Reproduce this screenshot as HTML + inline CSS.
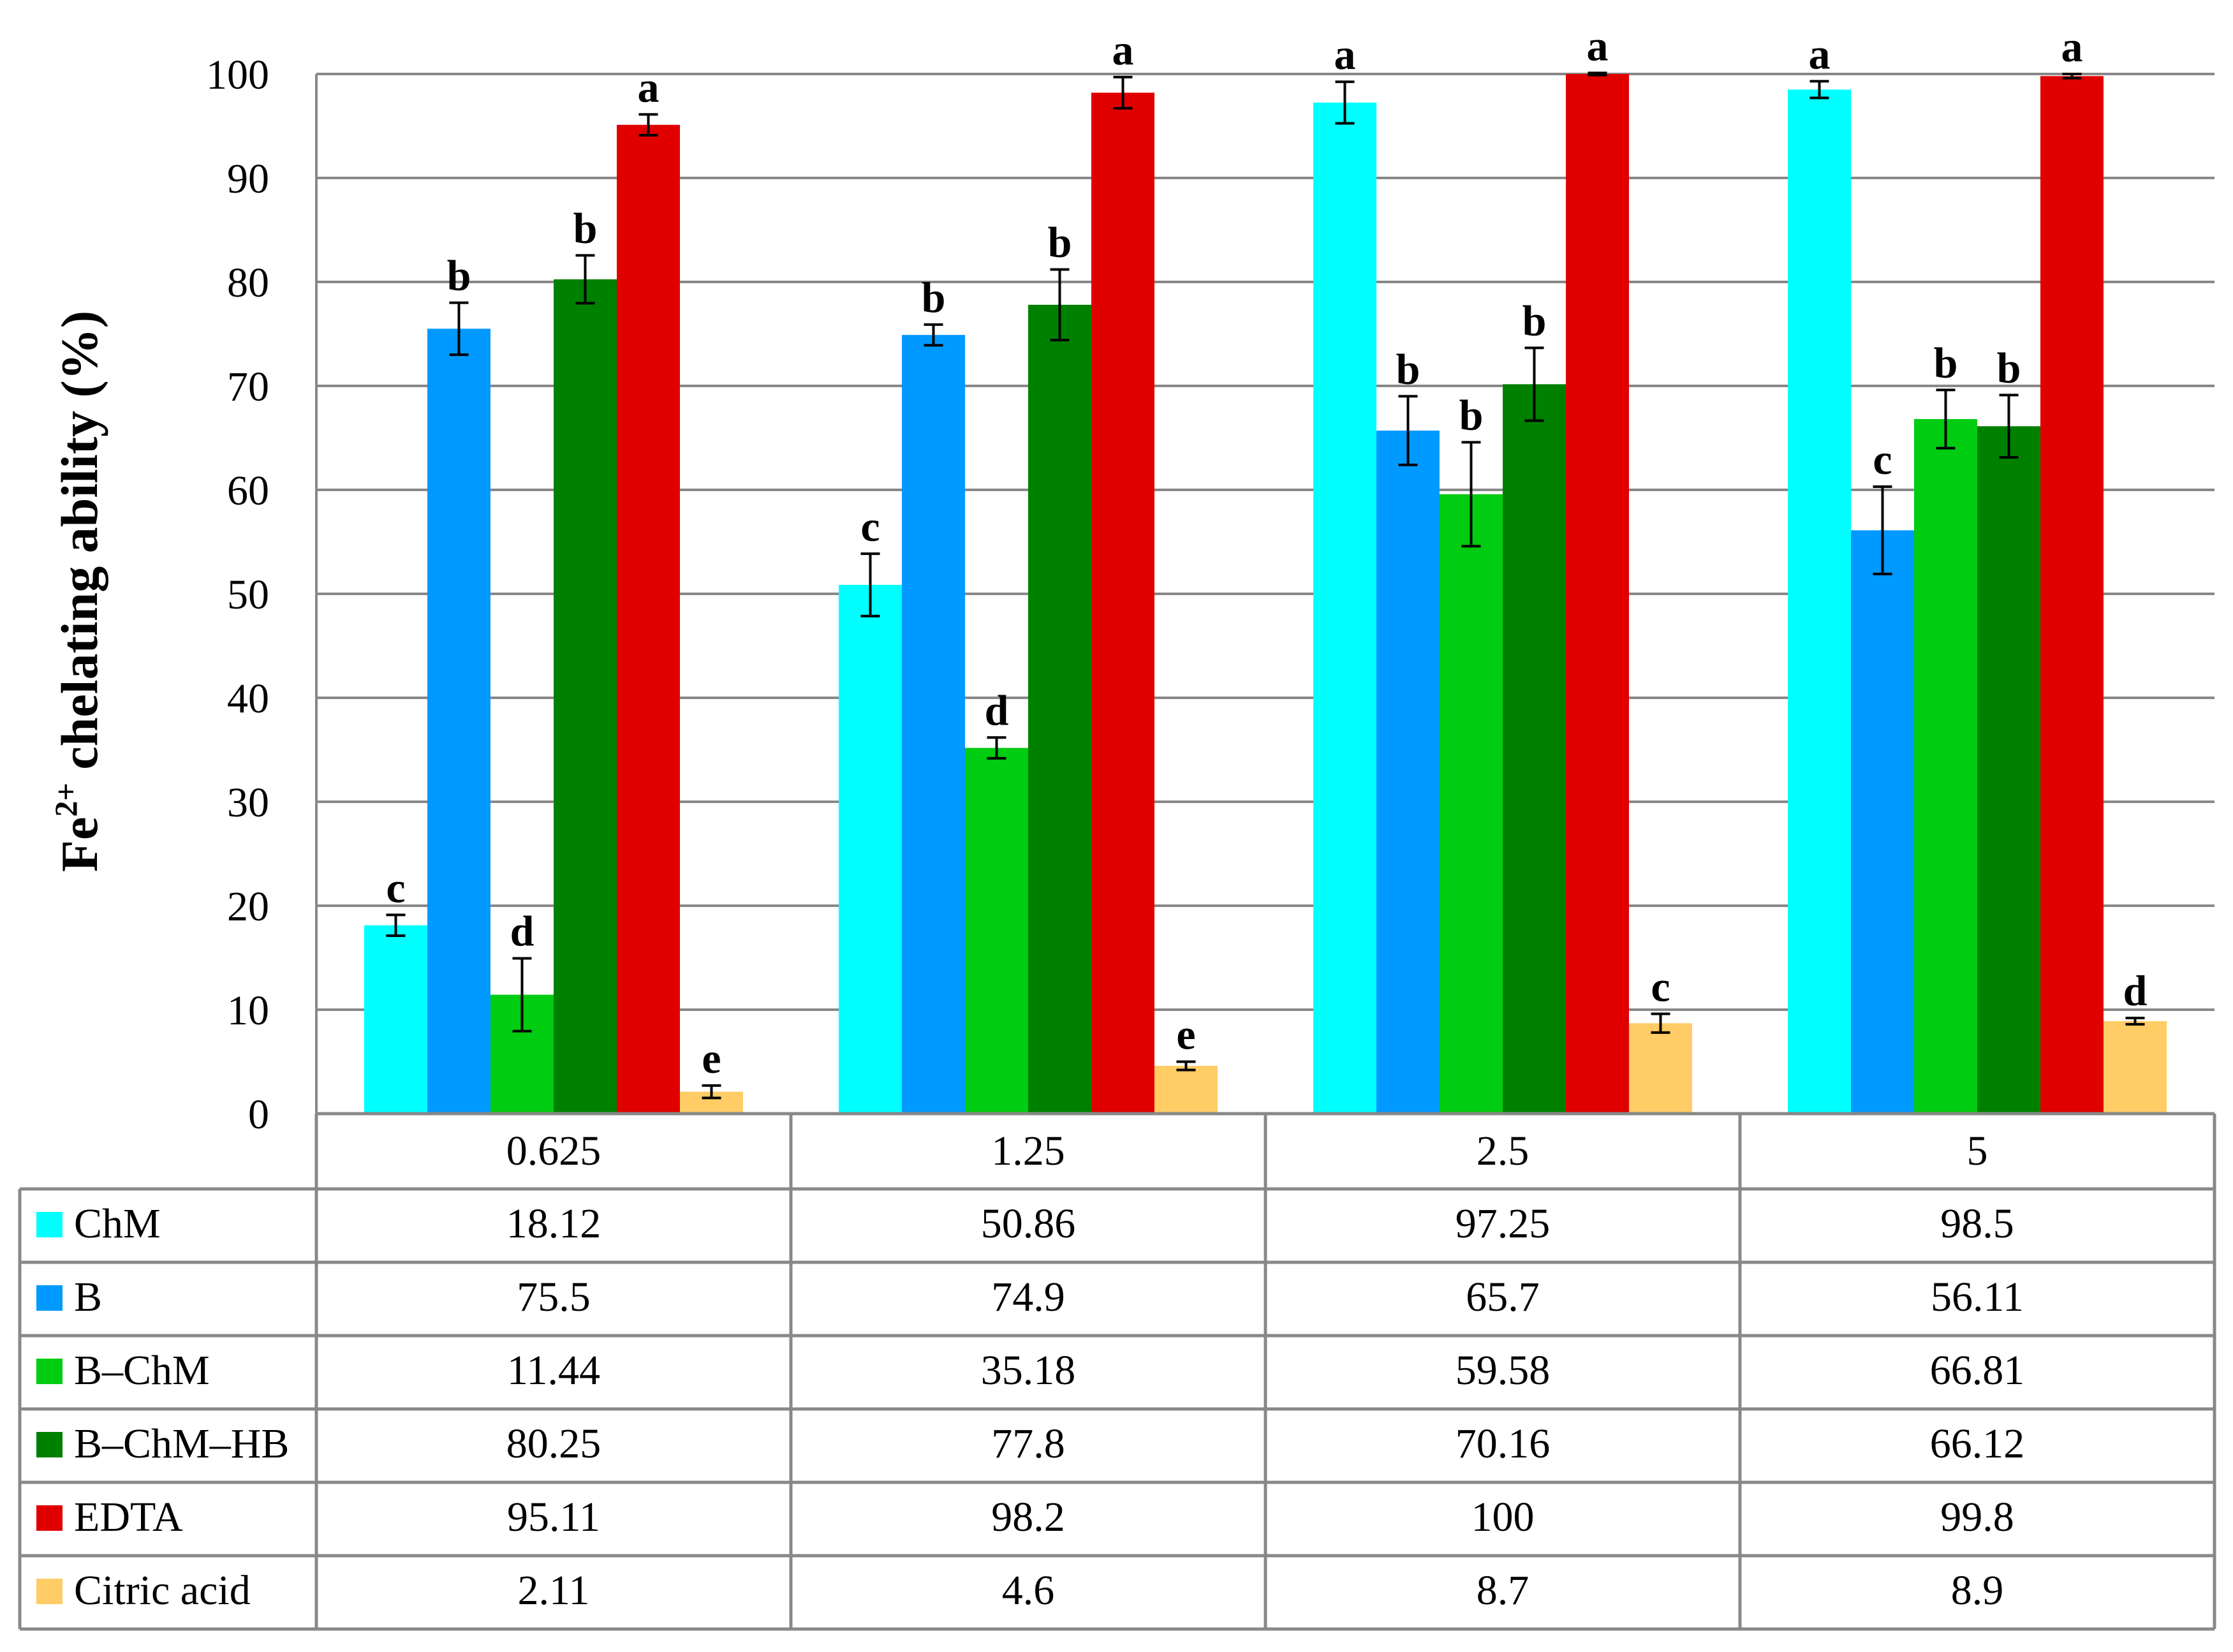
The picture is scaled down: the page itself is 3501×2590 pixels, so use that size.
<!DOCTYPE html>
<html><head><meta charset="utf-8"><style>
html,body{margin:0;padding:0;background:#fff;}
svg{display:block;font-family:"Liberation Serif",serif;}
</style></head><body>
<svg id="chart" width="3501" height="2590" viewBox="0 0 3501 2590" xmlns="http://www.w3.org/2000/svg">
<g id="grid"></g>
<g id="bars"></g>
<g id="table"></g>
<text transform="translate(152,927) rotate(-90)" text-anchor="middle" font-weight="bold" font-size="82">Fe<tspan font-size="50" dy="-32">2+</tspan><tspan dy="32"> chelating ability (%)</tspan></text>
</svg>
<script>
const categories = ["0.625","1.25","2.5","5"];
const seriesNames = ["ChM","B","B–ChM","B–ChM–HB","EDTA","Citric acid"];
const chmVals = [18.12,50.86,97.25,98.5];
const bVals = [75.5,74.9,65.7,56.11];
const bchmVals = [11.44,35.18,59.58,66.81];
const hbVals = [80.25,77.8,70.16,66.12];
const edtaVals = [95.11,98.2,100,99.8];
const citricVals = [2.11,4.6,8.7,8.9];
const chmErr = [1,3,2,0.8];
const bErr = [2.5,1,3.3,4.2];
const bchmErr = [3.5,1,5,2.8];
const hbErr = [2.3,3.4,3.5,3];
const edtaErr = [1,1.5,0.1,0.2];
const citricErr = [0.6,0.4,0.9,0.3];
const chmLetters = ["c","c","a","a"];
const bLetters = ["b","b","b","c"];
const bchmLetters = ["d","d","b","b"];
const hbLetters = ["b","b","b","b"];
const edtaLetters = ["a","a","a","a"];
const citricLetters = ["e","e","c","d"];
const yTicks = [0,10,20,30,40,50,60,70,80,90,100];
const tableText = [
 ["18.12","50.86","97.25","98.5"],
 ["75.5","74.9","65.7","56.11"],
 ["11.44","35.18","59.58","66.81"],
 ["80.25","77.8","70.16","66.12"],
 ["95.11","98.2","100","99.8"],
 ["2.11","4.6","8.7","8.9"]];
const values=[chmVals,bVals,bchmVals,hbVals,edtaVals,citricVals];
const errs=[chmErr,bErr,bchmErr,hbErr,edtaErr,citricErr];
const letters=[chmLetters,bLetters,bchmLetters,hbLetters,edtaLetters,citricLetters];
const colors=["#00FFFF","#0099FF","#00CC11","#008000","#E00000","#FFCC66"];
const NS="http://www.w3.org/2000/svg";
const X0=496,X1=3472,Y0=1746,Y100=116;
const catW=(X1-X0)/categories.length, barW=99, pad=(catW-6*barW)/2;
function y(v){return Y0-(v/100)*(Y0-Y100);}
function mk(tag,attrs,parent){const e=document.createElementNS(NS,tag);for(const k in attrs)e.setAttribute(k,attrs[k]);parent.appendChild(e);return e;}
const grid=document.getElementById('grid'),bars=document.getElementById('bars'),tbl=document.getElementById('table');
yTicks.forEach(t=>{
 const l=mk('line',{x1:X0,x2:X1,y1:y(t),y2:y(t),stroke:'#888','stroke-width':4},grid);
 
 
 const tx=mk('text',{x:422,y:y(t)+23,'text-anchor':'end','font-size':66},grid);
 tx.textContent=t;
 
 
});
const ax=mk('line',{x1:X0,x2:X0,y1:Y100,y2:Y0,stroke:'#888','stroke-width':4},grid);


categories.forEach((c,ci)=>{
 for(let s=0;s<6;s++){
  const v=values[s][ci],e=errs[s][ci];
  const bx=X0+ci*catW+pad+s*barW;
  const r=mk('rect',{x:bx,y:y(v),width:barW,height:Y0-y(v),fill:colors[s]},bars);
  
  
  const cx=bx+barW/2;
  const g=mk('g',{stroke:'#000','stroke-width':4},bars);
  
  
  mk('line',{x1:cx,x2:cx,y1:y(v+e),y2:y(v-e)},g);
  mk('line',{x1:cx-15,x2:cx+15,y1:y(v+e),y2:y(v+e)},g);
  mk('line',{x1:cx-15,x2:cx+15,y1:y(v-e),y2:y(v-e)},g);
  const lt=mk('text',{x:cx,y:y(v+e)-20,'text-anchor':'middle','font-size':68,'font-weight':'bold'},bars);
  lt.textContent=letters[s][ci];
  
  
 }
});
const rowTop=1864,rowH=115,TL=31;
const st={stroke:'#888','stroke-width':5};
function ln(a,b,c,d){const l=mk('line',Object.assign({x1:a,y1:b,x2:c,y2:d},st),tbl);}
for(let i=0;i<=6;i++) ln(TL,rowTop+i*rowH,X1,rowTop+i*rowH);
ln(X0,Y0,X1,Y0);
ln(TL,rowTop,TL,rowTop+6*rowH);
for(let i=0;i<=4;i++) ln(X0+i*catW,Y0,X0+i*catW,rowTop+6*rowH);
categories.forEach((c,ci)=>{
 const t=mk('text',{x:X0+(ci+0.5)*catW,y:Y0+80,'text-anchor':'middle','font-size':66},tbl);
 t.textContent=c;
 
 
});
seriesNames.forEach((n,s)=>{
 const ry=rowTop+s*rowH;
 const sw=mk('rect',{x:57,y:ry+36,width:41,height:40,fill:colors[s]},tbl);
 
 
 const t=mk('text',{x:116,y:ry+76,'font-size':66},tbl);
 t.textContent=n;
 
 
 tableText[s].forEach((v,ci)=>{
  const c=mk('text',{x:X0+(ci+0.5)*catW,y:ry+76,'text-anchor':'middle','font-size':66},tbl);
  c.textContent=v;
  
  
 });
});
</script>
</body></html>
